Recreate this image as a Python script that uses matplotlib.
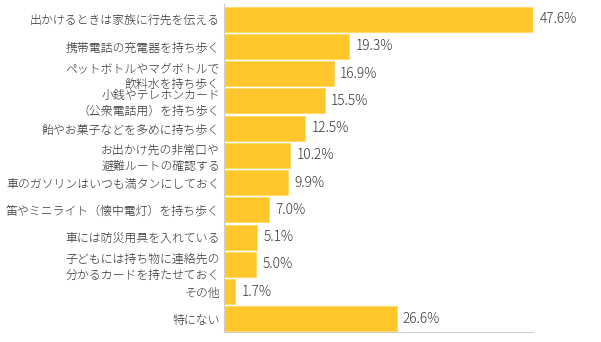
import numpy as np
import matplotlib
matplotlib.use('Agg')
from matplotlib import pyplot as plt

plt.rcParams['font.family'] = ['Noto Sans CJK JP', 'DejaVu Sans']

# survey answers, top to bottom
labels = [
    '出かけるときは家族に行先を伝える',
    '携帯電話の充電器を持ち歩く',
    'ペットボトルやマグボトルで\n飲料水を持ち歩く',
    '小銭やテレホンカード\n（公衆電話用）を持ち歩く',
    '飴やお菓子などを多めに持ち歩く',
    'お出かけ先の非常口や\n避難ルートの確認する',
    '車のガソリンはいつも満タンにしておく',
    '笛やミニライト（懐中電灯）を持ち歩く',
    '車には防災用具を入れている',
    '子どもには持ち物に連絡先の\n分かるカードを持たせておく',
    'その他',
    '特にない',
]
values = [47.6, 19.3, 16.9, 15.5, 12.5, 10.2, 9.9, 7.0, 5.1, 5.0, 1.7, 26.6]

BAR_COLOR = '#FFC72C'
TEXT_COLOR = '#333333'

fig = plt.figure(figsize=(6.01, 3.42), dpi=100)
ax = fig.add_axes([0.3727, 0.0292, 0.8869 - 0.3727, 0.988 - 0.0292])

y = np.arange(len(values))
ax.barh(y, values, height=0.92, color=BAR_COLOR, edgecolor='#FFD865', linewidth=0.6)

for yi, v in zip(y, values):
    ax.annotate('{:.1f}%'.format(v), xy=(v, yi), xytext=(4.5, 0), textcoords='offset points',
                ha='left', va='center', fontsize=9.8, color=TEXT_COLOR, fontweight='light',
                annotation_clip=False)

ax.set_xlim(0, max(values))
ax.set_ylim(11.48, -0.55)
ax.set_yticks(y)
ax.set_yticklabels(labels, fontsize=8.6, color=TEXT_COLOR, linespacing=1.25, ha='right',
                   fontweight='light')
ax.tick_params(axis='y', length=0, pad=3)
ax.set_xticks([])

for side in ['top', 'right']:
    ax.spines[side].set_visible(False)
for side in ['left', 'bottom']:
    ax.spines[side].set_color('#D0D0D0')
    ax.spines[side].set_linewidth(0.8)

fig.savefig('out.png', dpi=100)
